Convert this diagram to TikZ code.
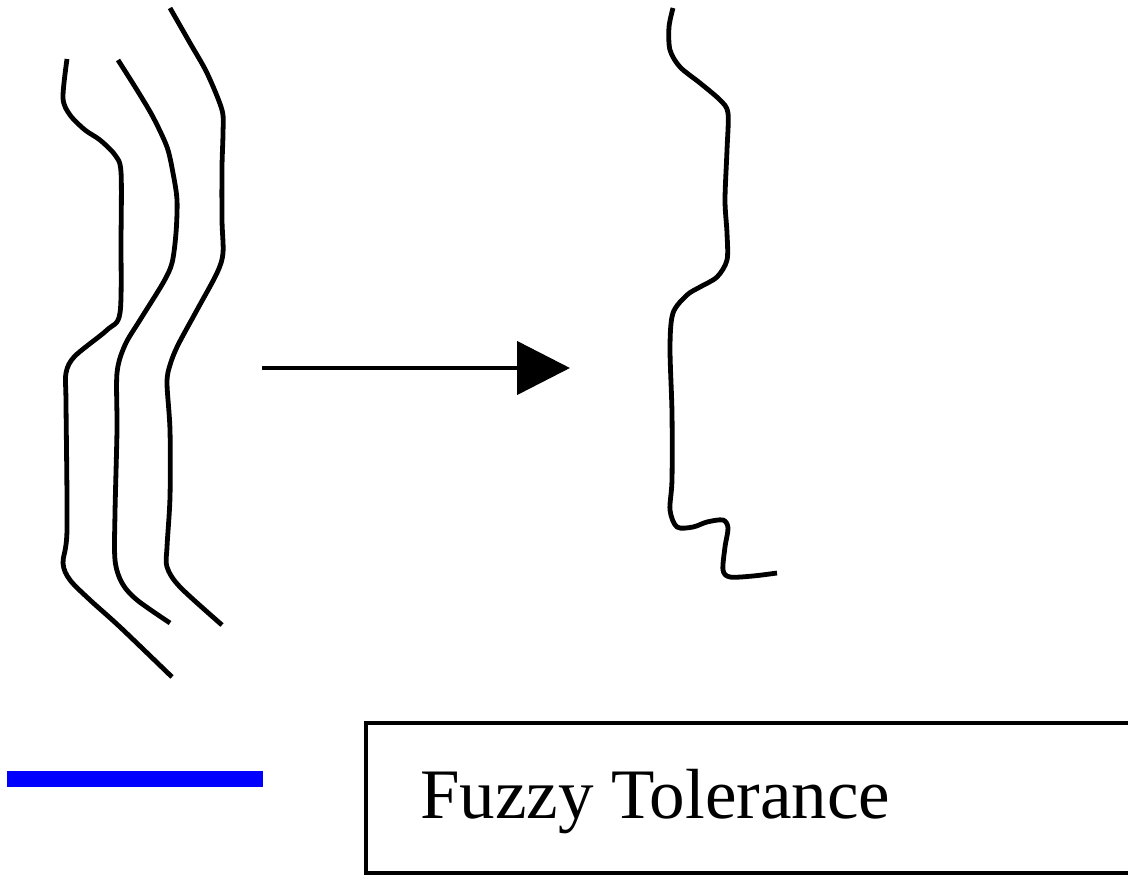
\documentclass[tikz,border=0pt]{standalone}
\usepackage{fontspec}
\setmainfont{Liberation Serif}
\usetikzlibrary{arrows.meta}
\begin{document}
\begin{tikzpicture}[x=1pt,y=-1pt,
  curve/.style={line width=4.8pt, line join=round},
  conn/.style={line width=4.5pt, -{Triangle[length=53pt,width=53pt]}},
  legendbar/.style={line width=16pt, draw={rgb,255:red,0;green,0;blue,255}},
  framebox/.style={line width=4.5pt}]
\clip (0,0) rectangle (1128,876);
\useasboundingbox (0,0) rectangle (1128,876);
% left: three curves
\draw[curve] plot[smooth, tension=0.5] coordinates {
 (67,59) (63,98) (70,115) (85,130) (100,140) (115,155) (121,172)
 (121,240) (120,313) (107,330) (75,356) (66,373) (66,403) (67,530)
 (63,563) (70,580) (90,600) (120,627) (172,677)};
\draw[curve] plot[smooth, tension=0.5] coordinates {
 (118,60) (137,90) (153,117) (167,147) (173,173) (177,200) (176,233)
 (172,263) (163,283) (140,320) (125,345) (117,373) (117,430)
 (115,513) (115,560) (122,583) (137,600) (170,623)};
\draw[curve] plot[smooth, tension=0.5] coordinates {
 (170,8) (190,43) (207,73) (222,110) (223,133) (222,167) (222,220)
 (223,253) (217,273) (197,310) (178,345) (170,365) (167,383) (170,430)
 (170,497) (167,547) (167,567) (180,587) (222,625)};
% arrow
\coordinate (src) at (262,368);
\coordinate (dst) at (570,368);
\draw[conn] (src) -- (dst);
% right curve
\draw[curve] plot[smooth, tension=0.5] coordinates {
 (673,8) (669,27) (670,50) (680,67) (700,83) (720,100) (728,113)
 (727,150) (725,200) (727,233) (727,260) (717,277) (700,287) (687,295)
 (673,313) (670,347) (672,413) (672,480) (670,510) (677,527) (693,527)
 (707,522) (723,520) (728,528) (725,547) (723,570) (730,577) (753,576) (777,573)};
% legend
\draw[legendbar] (7,779) -- (263,779);
\draw[framebox] (366,723) rectangle (1150,873);
\node[anchor=base west, inner sep=0pt, font=\fontsize{71}{80}\selectfont] (label) at (420,818) {Fuzzy Tolerance};
\end{tikzpicture}
\end{document}
